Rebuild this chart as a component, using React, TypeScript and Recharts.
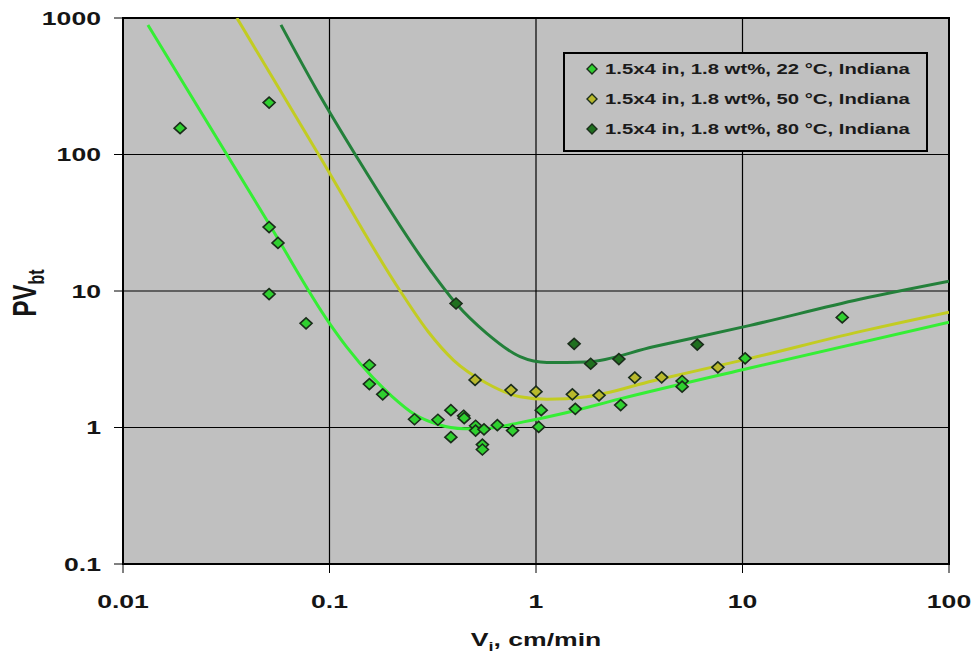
import {
  ComposedChart,
  Line,
  Scatter,
  XAxis,
  YAxis,
  CartesianGrid,
  Legend,
  ReferenceArea,
} from 'recharts';

// PVbt vs injection velocity, three temperatures.

const xTicks = [0.01, 0.1, 1, 10, 100];
const yTicks = [0.1, 1, 10, 100, 1000];

const names = [
  '1.5x4 in, 1.8 wt%, 22 °C, Indiana',
  '1.5x4 in, 1.8 wt%, 50 °C, Indiana',
  '1.5x4 in, 1.8 wt%, 80 °C, Indiana',
];

// measured points
const vi22 = [0.0189, 0.051, 0.051, 0.0563, 0.051, 0.077, 0.156, 0.156, 0.181, 0.258, 0.335, 0.387, 0.446, 0.449, 0.387, 0.51, 0.51, 0.56, 0.55, 0.55, 0.65, 0.77, 1.03, 1.06, 1.55, 2.57, 5.1, 5.1, 10.3, 30.4];
const pv22 = [156, 240, 29.4, 22.5, 9.5, 5.8, 2.87, 2.08, 1.75, 1.15, 1.14, 1.34, 1.22, 1.17, 0.85, 1.03, 0.95, 0.97, 0.75, 0.69, 1.04, 0.95, 1.01, 1.34, 1.37, 1.46, 2.19, 1.99, 3.21, 6.4];

const vi50 = [0.507, 0.757, 1.0, 1.5, 2.02, 3.01, 4.06, 7.6];
const pv50 = [2.23, 1.88, 1.83, 1.75, 1.72, 2.32, 2.33, 2.76];

const vi80 = [0.41, 1.53, 1.84, 2.52, 6.04];
const pv80 = [8.1, 4.1, 2.93, 3.17, 4.05];

// fitted trend curves, traced
const fitVi22 = [0.0132, 0.051, 0.1, 0.121, 0.163, 0.2, 0.258, 0.33, 0.45, 0.55, 0.87, 1.3, 2.55, 10, 100];
const fitPv22 = [890, 31, 5.8, 3.9, 2.3, 1.7, 1.25, 1.06, 0.98, 0.98, 1.1, 1.25, 1.62, 2.65, 5.9];

const fitVi50 = [0.0356, 0.0885, 0.22, 0.3, 0.398, 0.577, 0.837, 1.13, 1.76, 3.7, 10.9, 37, 100];
const fitPv50 = [1000, 100, 10, 5.05, 3.12, 2.11, 1.68, 1.61, 1.68, 2.2, 3.21, 5.04, 7.0];

const fitVi80 = [0.0582, 0.0867, 0.1355, 0.307, 0.41, 0.577, 0.837, 1.13, 1.76, 3.7, 10.9, 37, 100];
const fitPv80 = [890, 297, 96, 14.3, 8.1, 4.9, 3.3, 2.99, 3.02, 3.9, 5.6, 8.7, 11.8];

const zip = (xs: number[], ys: number[]) => xs.map((x, i) => ({ x, y: ys[i] }));

const FONT = '"Liberation Sans", Arial, sans-serif';
const STRETCH = 1.4;

const fills = ['#2fd02f', '#b9b92c', '#1f701f'];
const lineColors = ['#35ee35', '#c2cc22', '#23803a'];

const diamond = (fill: string) => (props: any) => {
  const { cx, cy } = props;
  if (cx == null || cy == null) return null;
  const rx = 6;
  const ry = 5.5;
  return (
    <path
      d={`M${cx},${cy - ry}L${cx + rx},${cy}L${cx},${cy + ry}L${cx - rx},${cy}Z`}
      fill={fill}
      stroke="#1b2d1b"
      strokeWidth={1.6}
    />
  );
};

const XTick = (props: any) => {
  const { x, y, payload } = props;
  return (
    <text
      transform={`translate(${x},${y}) scale(${STRETCH},1)`}
      textAnchor="middle"
      dy="0.71em"
      fontFamily={FONT}
      fontWeight="bold"
      fontSize={19}
      fill="#151515"
    >
      {String(payload.value)}
    </text>
  );
};

const YTick = (props: any) => {
  const { x, y, payload } = props;
  return (
    <text
      transform={`translate(${x},${y}) scale(${STRETCH},1)`}
      textAnchor="end"
      dy="0.36em"
      fontFamily={FONT}
      fontWeight="bold"
      fontSize={19}
      fill="#151515"
    >
      {String(payload.value)}
    </text>
  );
};

const LegendBox = () => (
  <div
    style={{
      width: 365,
      height: 100,
      boxSizing: 'border-box',
      border: '2px solid #000',
      background: '#c0c0c0',
    }}
  >
    {names.map((n, i) => (
      <div key={n} style={{ height: 30, display: 'flex', alignItems: 'center', position: 'relative' }}>
        <svg width={14} height={14} style={{ position: 'absolute', left: 20 }}>
          <path d="M7,2L12,7L7,12L2,7Z" fill={fills[i]} stroke="#1b2d1b" strokeWidth={1.4} />
        </svg>
        <span
          style={{
            position: 'absolute',
            left: 40,
            fontFamily: FONT,
            fontWeight: 'bold',
            fontSize: 14.5,
            color: '#1a1a1a',
            whiteSpace: 'nowrap',
            transform: `scaleX(${STRETCH})`,
            transformOrigin: 'left center',
          }}
        >
          {n}
        </span>
      </div>
    ))}
  </div>
);

export default function App() {
  return (
    <div style={{ position: 'absolute', left: 0, top: 0, background: '#fff' }}>
      <ComposedChart
        width={975}
        height={660}
        margin={{ top: 18, right: 26, bottom: 16, left: 0 }}
      >
        <CartesianGrid fill="#c0c0c0" stroke="#000" strokeWidth={1.2} />
        <XAxis
          type="number"
          dataKey="x"
          scale="log"
          domain={[0.01, 100]}
          ticks={xTicks}
          allowDataOverflow
          height={80}
          tickSize={9}
          tickMargin={22}
          tick={<XTick />}
          tickLine={{ stroke: '#000' }}
          axisLine={{ stroke: '#000', strokeWidth: 2 }}
          label={{
            content: () => (
              <text
                transform={`translate(536,646) scale(${STRETCH},1)`}
                textAnchor="middle"
                fontFamily={FONT}
                fontWeight="bold"
                fontSize={19}
                fill="#151515"
              >
                V<tspan dy={5} fontSize={13}>i</tspan>
                <tspan dy={-5}>, cm/min</tspan>
              </text>
            ),
          }}
        />
        <YAxis
          type="number"
          dataKey="y"
          scale="log"
          domain={[0.1, 1000]}
          ticks={yTicks}
          allowDataOverflow
          width={123}
          tickSize={9}
          tickMargin={13}
          tick={<YTick />}
          tickLine={{ stroke: '#000' }}
          axisLine={{ stroke: '#000', strokeWidth: 2 }}
          label={{
            content: () => (
              <text
                transform={`translate(36,293) rotate(-90) scale(1,${STRETCH})`}
                textAnchor="middle"
                fontFamily={FONT}
                fontWeight="bold"
                fontSize={24}
                fill="#151515"
              >
                PV<tspan dy={6} fontSize={16}>bt</tspan>
              </text>
            ),
          }}
        />
        <ReferenceArea
          x1={0.01}
          x2={100}
          y1={0.1}
          y2={1000}
          fill="none"
          stroke="#000"
          strokeWidth={2}
          ifOverflow="visible"
        />
        <Line data={zip(fitVi22, fitPv22)} dataKey="y" type="monotone" stroke={lineColors[0]} strokeWidth={3} dot={false} legendType="none" isAnimationActive={false} />
        <Line data={zip(fitVi50, fitPv50)} dataKey="y" type="monotone" stroke={lineColors[1]} strokeWidth={3} dot={false} legendType="none" isAnimationActive={false} />
        <Line data={zip(fitVi80, fitPv80)} dataKey="y" type="monotone" stroke={lineColors[2]} strokeWidth={3} dot={false} legendType="none" isAnimationActive={false} />
        <Scatter name={names[0]} data={zip(vi22, pv22)} dataKey="y" shape={diamond(fills[0])} isAnimationActive={false} />
        <Scatter name={names[1]} data={zip(vi50, pv50)} dataKey="y" shape={diamond(fills[1])} isAnimationActive={false} />
        <Scatter name={names[2]} data={zip(vi80, pv80)} dataKey="y" shape={diamond(fills[2])} isAnimationActive={false} />
        <Legend
          layout="vertical"
          align="center"
          verticalAlign="middle"
          wrapperStyle={{ position: 'absolute', left: 563, top: 52, width: 365, height: 100 }}
          content={() => <LegendBox />}
        />
      </ComposedChart>
    </div>
  );
}
